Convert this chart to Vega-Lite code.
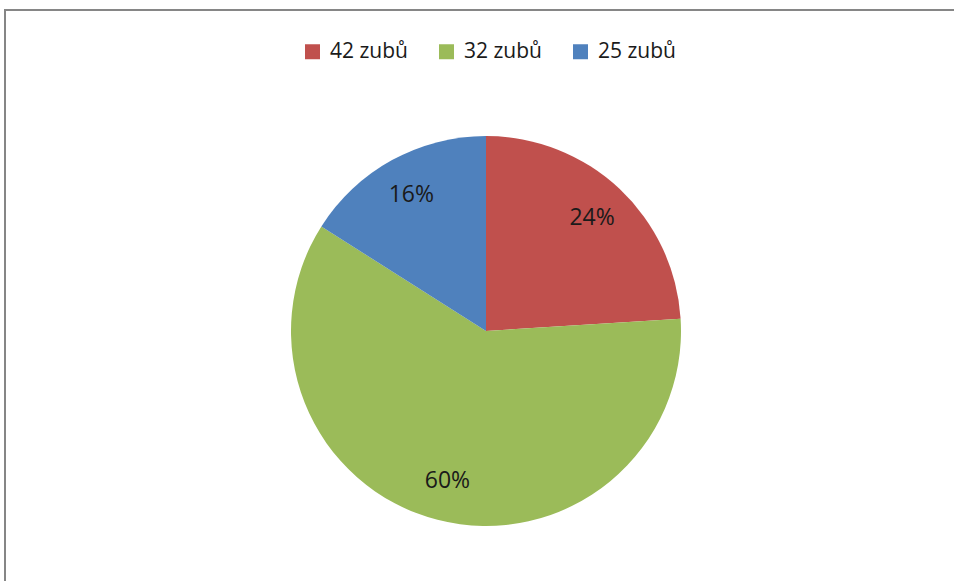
{
  "$schema": "https://vega.github.io/schema/vega-lite/v6.json",
  "autosize": {"type": "none"},
  "padding": {"left": 5, "top": 10, "right": 0, "bottom": 0},
  "width": 962,
  "height": 642,
  "background": "white",
  "view": {"stroke": "#868686", "strokeWidth": 2, "fill": "white"},
  "config": {
    "view": {"stroke": "#868686", "strokeWidth": 2},
    "style": {"cell": {"stroke": "#868686", "strokeWidth": 2}},
    "font": "Open Sans"
  },
  "data": {
    "values": [
      {"category": "42 zubů", "value": 24, "label": "24%", "order": 1},
      {"category": "32 zubů", "value": 60, "label": "60%", "order": 2},
      {"category": "25 zubů", "value": 16, "label": "16%", "order": 3}
    ]
  },
  "encoding": {
    "theta": {"field": "value", "type": "quantitative", "stack": true},
    "order": {"field": "order", "type": "quantitative"}
  },
  "layer": [
    {
      "mark": {"type": "arc", "outerRadius": 195},
      "encoding": {
        "color": {
          "field": "category",
          "type": "nominal",
          "sort": ["42 zubů", "32 zubů", "25 zubů"],
          "scale": {
            "domain": ["42 zubů", "32 zubů", "25 zubů"],
            "range": ["#C0504D", "#9BBB59", "#4F81BD"]
          },
          "legend": {
            "title": null,
            "orient": "none",
            "direction": "horizontal",
            "legendX": 297,
            "legendY": 31,
            "symbolType": "square",
            "symbolSize": 225,
            "symbolStrokeWidth": 0,
            "labelFontSize": 21,
            "labelColor": "#1a1a1a",
            "labelFont": "Open Sans",
            "columnPadding": 28,
            "labelOffset": 7
          }
        }
      }
    },
    {
      "mark": {"type": "text", "radius": 155, "fontSize": 23, "font": "Open Sans", "color": "#1a1a1a"},
      "encoding": {"text": {"field": "label", "type": "nominal"}}
    }
  ]
}
